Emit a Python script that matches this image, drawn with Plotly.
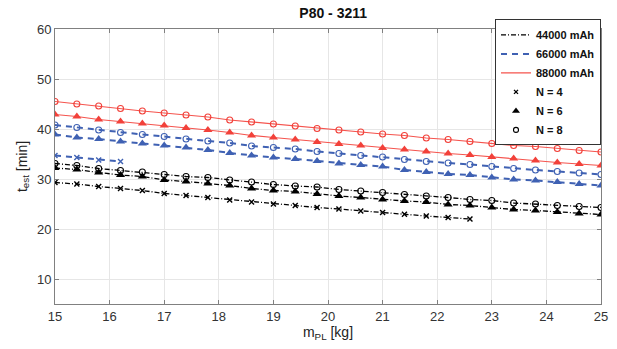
import plotly.graph_objects as go

# x values (payload mass, kg)
m_full = [15.0, 15.4, 15.8, 16.2, 16.6, 17.0, 17.4, 17.8, 18.2, 18.6, 19.0, 19.4, 19.8,
          20.2, 20.6, 21.0, 21.4, 21.8, 22.2, 22.6, 23.0, 23.4, 23.8, 24.2, 24.6, 25.0]

# 88000 mAh
t88_n8 = [45.5, 45.0, 44.6, 44.1, 43.6, 43.2, 42.8, 42.4, 41.8, 41.4, 41.0, 40.6, 40.1,
          39.8, 39.4, 39.0, 38.7, 38.2, 37.9, 37.5, 37.1, 36.7, 36.5, 36.1, 35.7, 35.4]
t88_n6 = [42.9, 42.5, 41.9, 41.5, 41.1, 40.7, 40.2, 39.8, 39.3, 38.7, 38.3, 37.9, 37.4,
          37.0, 36.7, 36.2, 35.9, 35.5, 35.1, 34.8, 34.4, 34.1, 33.7, 33.3, 33.0, 32.7]
# 66000 mAh
t66_n8 = [40.8, 40.3, 39.8, 39.3, 38.9, 38.5, 38.0, 37.6, 37.2, 36.6, 36.3, 36.0, 35.5,
          35.1, 34.7, 34.4, 33.9, 33.5, 33.2, 32.9, 32.5, 32.1, 31.8, 31.5, 31.2, 30.9]
t66_n6 = [38.9, 38.3, 38.0, 37.5, 37.1, 36.7, 36.3, 35.8, 35.2, 34.7, 34.3, 34.0, 33.6,
          33.1, 32.8, 32.5, 31.8, 31.4, 31.0, 30.8, 30.3, 29.9, 29.7, 29.4, 29.0, 28.7]
m66_n4 = [15.0, 15.4, 15.8, 16.2]
t66_n4 = [34.7, 34.3, 33.8, 33.5]
# 44000 mAh
t44_n8 = [33.1, 32.7, 32.1, 31.7, 31.4, 30.9, 30.5, 30.3, 29.8, 29.4, 28.9, 28.6, 28.4,
          27.9, 27.6, 27.3, 26.9, 26.6, 26.3, 25.9, 25.7, 25.2, 25.0, 24.7, 24.5, 24.3]
t44_n6 = [32.2, 31.9, 31.3, 30.8, 30.5, 29.8, 29.5, 29.1, 28.7, 28.1, 27.7, 27.5, 27.0,
          26.6, 26.3, 25.9, 25.6, 25.4, 24.9, 24.7, 24.3, 23.9, 23.7, 23.4, 23.1, 22.9]
m44_n4 = [15.0, 15.4, 15.8, 16.2, 16.6, 17.0, 17.4, 17.8, 18.2, 18.6, 19.0, 19.4, 19.8,
          20.2, 20.6, 21.0, 21.4, 21.8, 22.2, 22.6]
t44_n4 = [29.3, 29.0, 28.5, 28.1, 27.7, 27.1, 26.7, 26.3, 25.8, 25.4, 25.0, 24.7, 24.3,
          24.0, 23.6, 23.3, 22.95, 22.6, 22.3, 22.0]

x_ticks = [15, 16, 17, 18, 19, 20, 21, 22, 23, 24, 25]
y_ticks = [10, 20, 30, 40, 50, 60]
battery_labels = ["44000 mAh", "66000 mAh", "88000 mAh"]
n_labels = ["N = 4", "N = 6", "N = 8"]

BLACK = "#000000"
BLUE = "#3f61b3"
RED = "#f2413a"
RED_LINE = "#f5534d"
FONT = "Liberation Sans, Arial, sans-serif"

line_styles = {
    "44000 mAh": dict(color=BLACK, width=1.3, dash="5px,2px,1px,2px"),
    "66000 mAh": dict(color=BLUE, width=2, dash="6px,5px"),
    "88000 mAh": dict(color=RED_LINE, width=1.2, dash="solid"),
}
colors = {"44000 mAh": BLACK, "66000 mAh": BLUE, "88000 mAh": RED}
markers = {
    "N = 4": dict(symbol="x-thin-open", size=5, line=dict(width=1.4)),
    "N = 6": dict(symbol="triangle-up", size=8, line=dict(width=0)),
    "N = 8": dict(symbol="circle-open", size=6, line=dict(width=1.1)),
}

series = [
    ("88000 mAh", "N = 8", m_full, t88_n8),
    ("88000 mAh", "N = 6", m_full, t88_n6),
    ("66000 mAh", "N = 8", m_full, t66_n8),
    ("66000 mAh", "N = 6", m_full, t66_n6),
    ("66000 mAh", "N = 4", m66_n4, t66_n4),
    ("44000 mAh", "N = 8", m_full, t44_n8),
    ("44000 mAh", "N = 6", m_full, t44_n6),
    ("44000 mAh", "N = 4", m44_n4, t44_n4),
]

fig = go.Figure()
for bat, n, xs, ys in series:
    mk = dict(markers[n])
    mk["color"] = colors[bat]
    mk["line"] = dict(mk["line"], color=colors[bat])
    fig.add_trace(go.Scatter(x=xs, y=ys, mode="lines+markers", line=line_styles[bat],
                             marker=mk, showlegend=False, hoverinfo="x+y"))

# legend entries
for bat in battery_labels:
    fig.add_trace(go.Scatter(x=[None], y=[None], mode="lines", name=bat,
                             line=line_styles[bat]))
for n in n_labels:
    mk = dict(markers[n])
    mk["color"] = BLACK
    mk["line"] = dict(mk["line"], color=BLACK)
    mk["size"] = mk["size"] - 1
    fig.add_trace(go.Scatter(x=[None], y=[None], mode="markers", name=n, marker=mk))

axis_common = dict(
    showline=True, linecolor="#808080", linewidth=1, mirror="ticks",
    ticks="inside", ticklen=4, tickcolor="#808080",
    showgrid=True, gridcolor="#e6e6e6", gridwidth=1, zeroline=False,
    tickfont=dict(family=FONT, size=13, color="#333333"),
)

fig.update_layout(
    width=617, height=349,
    margin=dict(l=55, r=9, t=29, b=45),
    paper_bgcolor="white", plot_bgcolor="white",
    font=dict(family=FONT, size=12, color="#222222"),
    title=dict(text="<b>P80 - 3211</b>", x=0.54, xanchor="center", y=0.962, yanchor="middle",
               font=dict(family=FONT, size=14, color="#111111")),
    xaxis=dict(axis_common, range=[15, 25], tickvals=x_ticks,
               title=dict(text="m<sub>PL</sub> [kg]", standoff=4,
                          font=dict(family=FONT, size=14, color="#222222"))),
    yaxis=dict(axis_common, range=[5, 60], tickvals=y_ticks,
               title=dict(text="t<sub>est</sub> [min]", standoff=6,
                          font=dict(family=FONT, size=14, color="#222222"))),
    legend=dict(x=1.0, xanchor="right", y=1.035, yanchor="top",
                bgcolor="white", bordercolor="#333333", borderwidth=1,
                font=dict(family=FONT, size=11, color="#111111", weight="bold"),
                tracegroupgap=0, itemwidth=30),
    showlegend=True,
)

fig.write_html(
    "out.html",
    config={"displayModeBar": False, "responsive": False},
    post_script="document.body.style.margin='0px';document.body.style.overflow='hidden';",
)
